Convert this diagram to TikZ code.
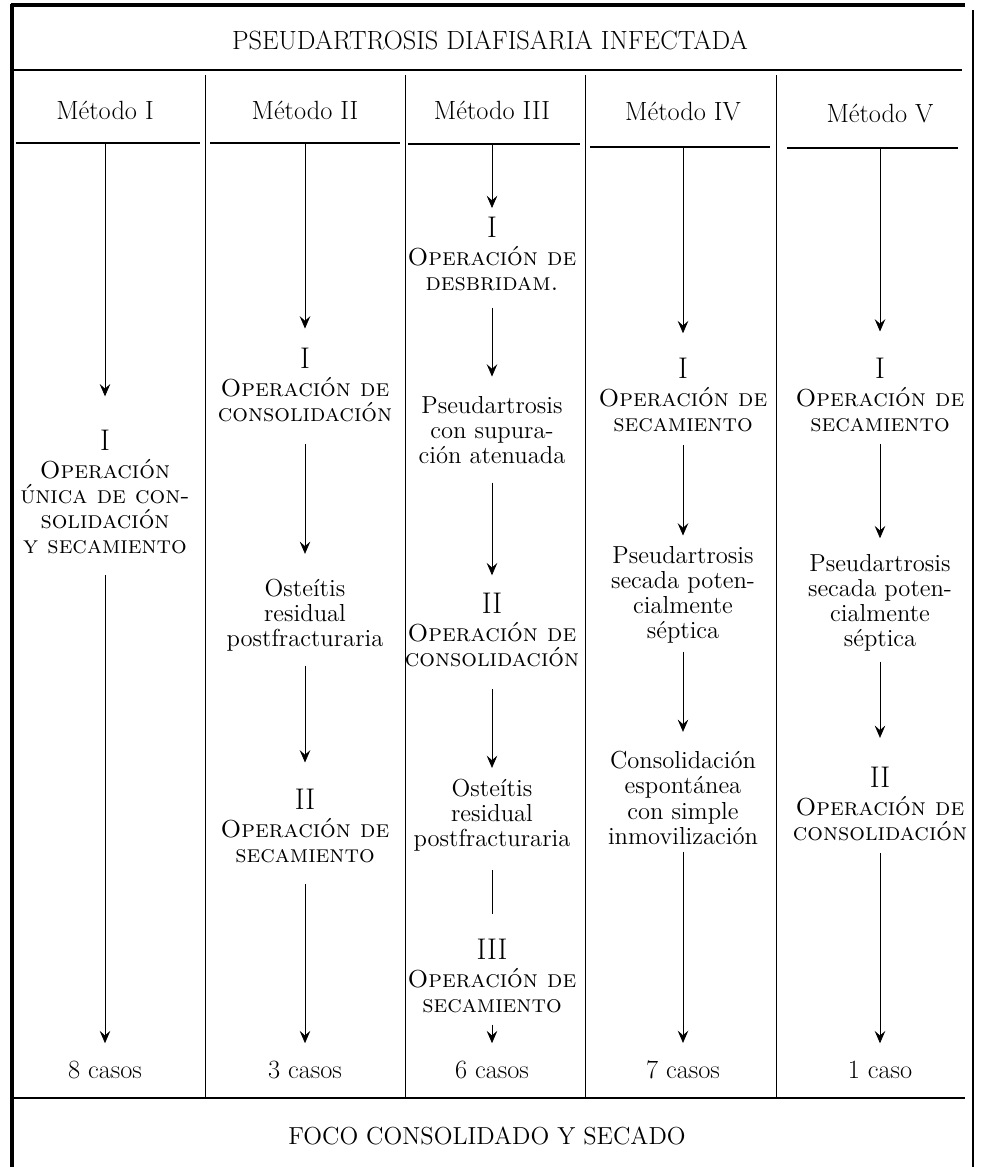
\documentclass[tikz,border=0pt]{standalone}
\usetikzlibrary{arrows.meta}
\newcommand\numfont{\fontsize{17}{18}\selectfont}
\newcommand\txtfont{\fontsize{14}{14.3}\selectfont}
\newcommand\headfont{\fontsize{15}{17}\selectfont}
\begin{document}
\begin{tikzpicture}[x=0.02cm,y=-0.02cm,
	bloque/.style={align=center,inner sep=0pt,font=\txtfont},
	cabeza/.style={inner sep=0pt,font=\headfont},
	flecha/.style 2 args={-{Stealth[length=7pt,width=6pt,inset=2.6pt]},line width=0.4pt,shorten <=#1pt,shorten >=#2pt},
	linea/.style 2 args={line width=0.4pt,shorten <=#1pt,shorten >=#2pt}]
	\useasboundingbox (0,0) rectangle (981,1167);

	% marco
	\draw[line width=1.8pt] (11,5) -- (965,5);
	\draw[line width=1.8pt] (12,4) -- (12,1167);
	\draw[line width=1.2pt] (973,10) -- (973,1167);
	\draw[line width=0.8pt] (12,70) -- (962,70);
	\draw[line width=0.8pt] (12,1098) -- (965,1098);
	\foreach \x in {205,405,585,776}
		\draw[line width=0.45pt] (\x,75) -- (\x,1098);
	\foreach \a/\b/\y in {16/200/143,210/400/143,408/580/144,590/770/147,787/958/148}
		\draw[line width=0.6pt] (\a,\y) -- (\b,\y);

	\node[cabeza] (titulo) at (490,40) {PSEUDARTROSIS DIAFISARIA INFECTADA};
	\node[cabeza,font=\fontsize{14}{16}\selectfont] (foco) at (487,1136) {FOCO CONSOLIDADO Y SECADO};

	\node[cabeza] (m1) at (105,110) {Método I};
	\node[cabeza] (m2) at (305,110) {Método II};
	\node[cabeza] (m3) at (492,110) {Método III};
	\node[cabeza] (m4) at (683,112) {Método IV};
	\node[cabeza] (m5) at (880,114) {Método V};

	\coordinate (h1) at (105,144);
	\coordinate (h2) at (305,144);
	\coordinate (h3) at (492,145);
	\coordinate (h4) at (683,148);
	\coordinate (h5) at (880,149);

	% Metodo I
	\node[bloque] (c1a) at (105,492) {{\numfont I}\\[1.5pt]\textsc{Operación}\\\textsc{única de con-}\\\textsc{solidación}\\\textsc{y secamiento}};
	\node[cabeza] (c1z) at (105,1070) {8 casos};

	% Metodo II
	\node[bloque] (c2a) at (305,385) {{\numfont I}\\[1.5pt]\textsc{Operación de}\\\textsc{consolidación}};
	\node[bloque] (c2b) at (305,615) {Osteítis\\residual\\postfracturaria};
	\node[bloque] (c2c) at (305,826) {{\numfont II}\\[1.5pt]\textsc{Operación de}\\\textsc{secamiento}};
	\node[cabeza] (c2z) at (305,1070) {3 casos};

	% Metodo III
	\node[bloque] (c3a) at (492,254) {{\numfont I}\\[1.5pt]\textsc{Operación de}\\\textsc{desbridam.}};
	\node[bloque] (c3b) at (492,430) {Pseudartrosis\\con supura-\\ción atenuada};
	\node[bloque] (c3c) at (492,630) {{\numfont II}\\[1.5pt]\textsc{Operación de}\\\textsc{consolidación}};
	\node[bloque] (c3d) at (492,815) {Osteítis\\residual\\postfracturaria};
	\node[bloque] (c3e) at (492,976) {{\numfont III}\\[1.5pt]\textsc{Operación de}\\\textsc{secamiento}};
	\node[cabeza] (c3z) at (492,1070) {6 casos};

	% Metodo IV
	\node[bloque] (c4a) at (683,395) {{\numfont I}\\[1.5pt]\textsc{Operación de}\\\textsc{secamiento}};
	\node[bloque] (c4b) at (683,595) {Pseudartrosis\\secada poten-\\cialmente\\séptica};
	\node[bloque] (c4c) at (683,798) {Consolidación\\espontánea\\con simple\\inmovilización};
	\node[cabeza] (c4z) at (683,1070) {7 casos};

	% Metodo V
	\node[bloque] (c5a) at (880,395) {{\numfont I}\\[1.5pt]\textsc{Operación de}\\\textsc{secamiento}};
	\node[bloque] (c5b) at (880,603) {Pseudartrosis\\secada poten-\\cialmente\\séptica};
	\node[bloque] (c5c) at (880,804) {{\numfont II}\\[1.5pt]\textsc{Operación de}\\\textsc{consolidación}};
	\node[cabeza] (c5z) at (880,1070) {1 caso};

	\draw[flecha={0}{19}] (h1) -- (c1a.north);
	\draw[flecha={12}{10}] (c1a.south) -- (c1z.north);

	\draw[flecha={0}{11}] (h2) -- (c2a.north);
	\draw[flecha={12.5}{14}] (c2a.south) -- (c2b.north);
	\draw[flecha={8}{15}] (c2b.south) -- (c2c.north);
	\draw[flecha={12}{10}] (c2c.south) -- (c2z.north);

	\draw[flecha={0}{5}] (h3) -- (c3a.north);
	\draw[flecha={9.5}{11}] (c3a.south) -- (c3b.north);
	\draw[flecha={10.5}{10}] (c3b.south) -- (c3c.north);
	\draw[flecha={12.5}{6}] (c3c.south) -- (c3d.north);
	\draw[linea={10.5}{14}] (c3d.south) -- (c3e.north);
	\draw[flecha={6.5}{10}] (c3e.south) -- (c3z.north);

	\draw[flecha={0}{14}] (h4) -- (c4a.north);
	\draw[flecha={7.5}{6}] (c4a.south) -- (c4b.north);
	\draw[flecha={4.5}{11}] (c4b.south) -- (c4c.north);
	\draw[flecha={4}{10}] (c4c.south) -- (c4z.north);

	\draw[flecha={0}{15}] (h5) -- (c5a.north);
	\draw[flecha={7}{9}] (c5a.south) -- (c5b.north);
	\draw[flecha={5.5}{16.5}] (c5b.south) -- (c5c.north);
	\draw[flecha={7}{10}] (c5c.south) -- (c5z.north);
\end{tikzpicture}
\end{document}
